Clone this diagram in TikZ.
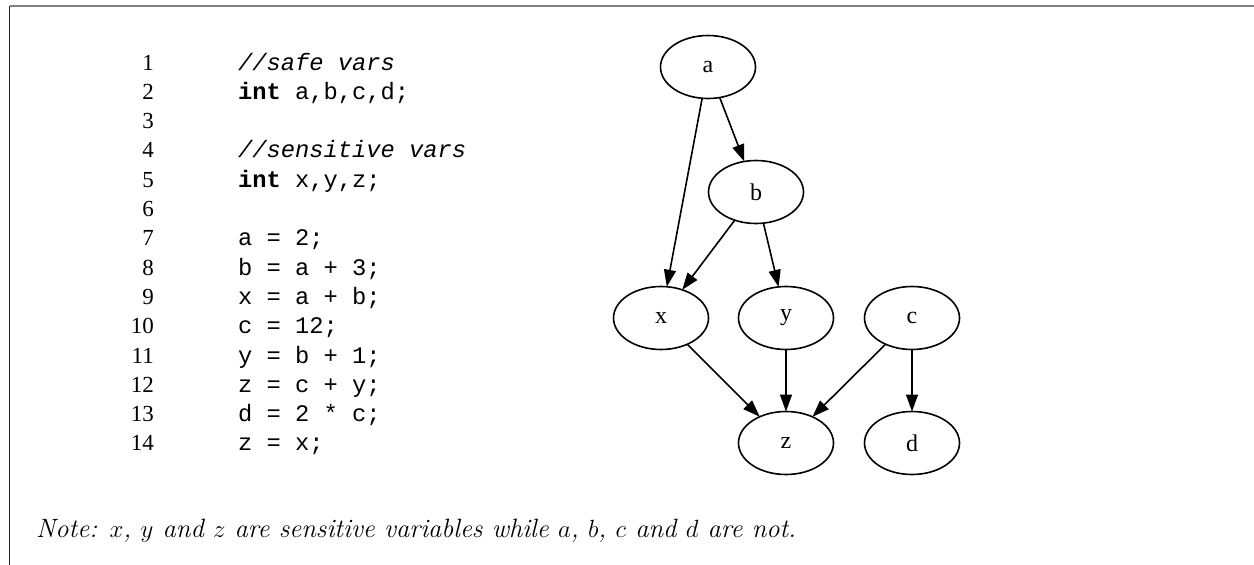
\documentclass[tikz,border=0pt]{standalone}
\usepackage{fontspec}
\usetikzlibrary{shapes.geometric,arrows.meta}
\newfontfamily\numfont{Liberation Serif}
\newfontfamily\codefont{Liberation Mono}
\newfontfamily\labelfont{Liberation Serif}
\begin{document}
\begin{tikzpicture}[x=1pt,y=-1pt,
  linenum/.style={anchor=base east,inner sep=0pt,font=\numfont\fontsize{23}{27}\selectfont},
  codeline/.style={anchor=base west,inner sep=0pt,font=\codefont\fontsize{23.75}{27}\selectfont},
  var/.style={ellipse,draw,line width=1.6pt,minimum width=95pt,minimum height=63pt,inner sep=0pt,outer sep=0pt,
    font=\labelfont\fontsize{24}{28}\selectfont},
  dep/.style={line width=1.6pt,-{Triangle[length=17pt,width=12pt]}},
  note/.style={anchor=base west,inner sep=0pt,font=\itshape\fontsize{26.5}{31}\selectfont}]
\useasboundingbox (0,0) rectangle (1254,565);

% frame: grey top rule and dark left rule
\coordinate (corner) at (9.5,5.5);
\coordinate (topend) at (1254,5.5);
\coordinate (leftend) at (9.5,565);
\draw[black!50,line width=2pt] (corner) -- (topend);
\draw[black!85,line width=1.5pt] (corner) -- (leftend);

% line numbers
\foreach \i in {1,...,14}
  \node[linenum] (num\i) at (154,{70+(\i-1)*29.3}) {\i};

% program text
\node[codeline] (code1)  at (238,{70+0*29.3})  {\itshape //safe vars};
\node[codeline] (code2)  at (238,{70+1*29.3})  {\textbf{int} a,b,c,d;};
\node[codeline] (code4)  at (238,{70+3*29.3})  {\itshape //sensitive vars};
\node[codeline] (code5)  at (238,{70+4*29.3})  {\textbf{int} x,y,z;};
\node[codeline] (code7)  at (238,{70+6*29.3})  {a = 2;};
\node[codeline] (code8)  at (238,{70+7*29.3})  {b = a + 3;};
\node[codeline] (code9)  at (238,{70+8*29.3})  {x = a + b;};
\node[codeline] (code10) at (238,{70+9*29.3})  {c = 12;};
\node[codeline] (code11) at (238,{70+10*29.3}) {y = b + 1;};
\node[codeline] (code12) at (238,{70+11*29.3}) {z = c + y;};
\node[codeline] (code13) at (238,{70+12*29.3}) {d = 2 * c;};
\node[codeline] (code14) at (238,{70+13*29.3}) {z = x;};

% dependency graph
\node[var] (va) at (708,67)  {a};
\node[var] (vb) at (756,192) {b};
\node[var] (vx) at (661,318) {x};
\node[var] (vy) at (786,318) {y};
\node[var] (vc) at (912,318) {c};
\node[var] (vz) at (786,443) {z};
\node[var] (vd) at (912,443) {d};

\draw[dep] (va) -- (vx);
\draw[dep] (va) -- (vb);
\draw[dep] (vb) -- (vx);
\draw[dep] (vb) -- (vy);
\draw[dep] (vx) -- (vz);
\draw[dep] (vy) -- (vz);
\draw[dep] (vc) -- (vz);
\draw[dep] (vc) -- (vd);

% caption
\node[note] (caption) at (36,537) {Note: $x$, $y$ and $z$ are sensitive variables while $a$, $b$, $c$ and $d$ are not.};
\end{tikzpicture}
\end{document}
